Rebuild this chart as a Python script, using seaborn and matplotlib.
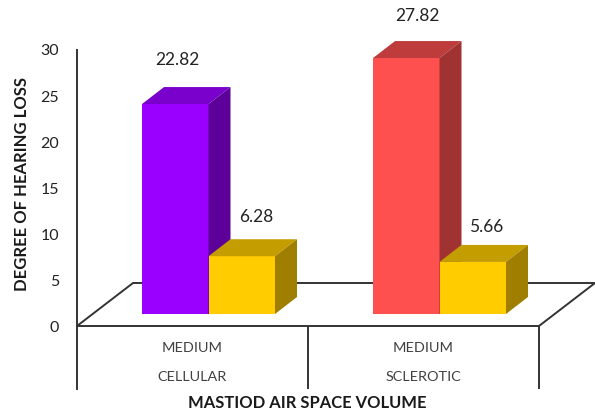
import matplotlib
matplotlib.use("Agg")
import matplotlib.pyplot as plt
import pandas as pd
import seaborn as sns
from matplotlib.patches import Polygon

# Hearing loss by mastoid air space volume
groups = ["MEDIUM\nCELLULAR", "MEDIUM\nSCLEROTIC"]
series = ["A", "B"]
cellular_values = [22.82, 6.28]
sclerotic_values = [27.82, 5.66]
y_ticks = [0, 5, 10, 15, 20, 25, 30]

df = pd.DataFrame({
    "group": [groups[0]] * 2 + [groups[1]] * 2,
    "series": series * 2,
    "value": cellular_values + sclerotic_values,
})

# Front, top and side shades for each column
front = ["#9900FF", "#FFCC00", "#FF5050", "#FFCC00"]
top = ["#7A00CC", "#C49D00", "#BF3C3C", "#C49D00"]
side = ["#5C0099", "#A07F00", "#A03232", "#A07F00"]

# Text placement for value labels, in pixels relative to each column's top centre
label_dx = [2, 15, 11, 13]
label_dy = [44, 39, 42, 35]

W, H = 595, 415
sns.set_theme(style="white")
plt.rcParams["font.family"] = ["Lato", "DejaVu Sans"]

fig = plt.figure(figsize=(W / 100, H / 100), dpi=100)
LEFT, RIGHT, TOP, BOTTOM = 77, 539, 50, 389
ax = fig.add_axes([LEFT / W, 1 - BOTTOM / H, (RIGHT - LEFT) / W, (BOTTOM - TOP) / H])

PX_Y = 9.2                  # pixels per unit on the value axis
PX_X = (RIGHT - LEFT) / 2   # pixels per category
ax.set_xlim(-0.5, 1.5)
ax.set_ylim(-(BOTTOM - 326) / PX_Y, 30)


def dx(px):
    return px / PX_X


def dy(px):
    return px / PX_Y


# Columns stand part-way back on the floor
sns.barplot(
    data=df, x="group", y="value", hue="series", ax=ax, legend=False,
    width=133 / PX_X, gap=0, bottom=dy(12), palette=["#9900FF", "#FFCC00"],
    linewidth=0, saturation=1, zorder=3,
)
bars = sorted(ax.patches, key=lambda p: p.get_x())

# Floor parallelogram behind the columns
FLOOR_X, FLOOR_Y = dx(56), dy(43)
x0, x1 = ax.get_xlim()
ax.add_patch(Polygon(
    [(x0, 0), (x1, 0), (x1 + FLOOR_X, FLOOR_Y), (x0 + FLOOR_X, FLOOR_Y)],
    closed=True, facecolor="white", edgecolor="#333333", linewidth=1.4,
    clip_on=False, zorder=1,
))

# Extrude every column into a box
DEPTH_X, DEPTH_Y = dx(22), dy(17)
for i, bar in enumerate(bars):
    bar.set_x(bar.get_x() + dx(16))
    bar.set_facecolor(front[i])
    bar.set_zorder(3 + i)
    xl, w = bar.get_x(), bar.get_width()
    yb, h = bar.get_y(), bar.get_height()
    xr, yt = xl + w, yb + h
    ax.add_patch(Polygon(
        [(xl, yt), (xr, yt), (xr + DEPTH_X, yt + DEPTH_Y), (xl + DEPTH_X, yt + DEPTH_Y)],
        closed=True, facecolor=top[i], linewidth=0, clip_on=False, zorder=3 + i,
    ))
    ax.add_patch(Polygon(
        [(xr, yb), (xr + DEPTH_X, yb + DEPTH_Y), (xr + DEPTH_X, yt + DEPTH_Y), (xr, yt)],
        closed=True, facecolor=side[i], linewidth=0, clip_on=False, zorder=3 + i,
    ))
    ax.text(
        xl + w / 2 + dx(label_dx[i]), yt + dy(label_dy[i]),
        f"{df['value'].iloc[i]:.2f}", ha="center", va="center",
        fontsize=12.5, color="#222222", clip_on=False, zorder=10,
    )

# Category dividers below the floor
ax.vlines([0.5, 1.5], ax.get_ylim()[0], 0, color="#333333", linewidth=1.4,
          zorder=2, clip_on=False)

for name in ("top", "right", "bottom"):
    ax.spines[name].set_visible(False)
ax.spines["left"].set_color("#333333")
ax.spines["left"].set_linewidth(1.4)

ax.set_yticks(y_ticks)
ax.tick_params(axis="y", length=0, pad=13, labelsize=11.5, labelcolor="#222222")
# Category names sit inside the axes box, between the floor and the axis foot
ax.tick_params(axis="x", length=0, pad=-34, labelsize=10.4, labelcolor="#404040")
for tick in ax.get_xticklabels():
    tick.set_linespacing(2.75)
    tick.set_verticalalignment("top")

ax.set_xlabel("")
ax.set_ylabel("")
fig.text(307 / W, 1 - 403 / H, "MASTIOD AIR SPACE VOLUME", ha="center", va="center",
         fontsize=11.9, fontweight="bold", color="#1a1a1a")
fig.text(22 / W, 1 - 184 / H, "DEGREE OF HEARING LOSS", ha="center", va="center",
         rotation=90, fontsize=12, fontweight="bold", color="#1a1a1a")

fig.savefig("out.png", dpi=100, facecolor="white")
